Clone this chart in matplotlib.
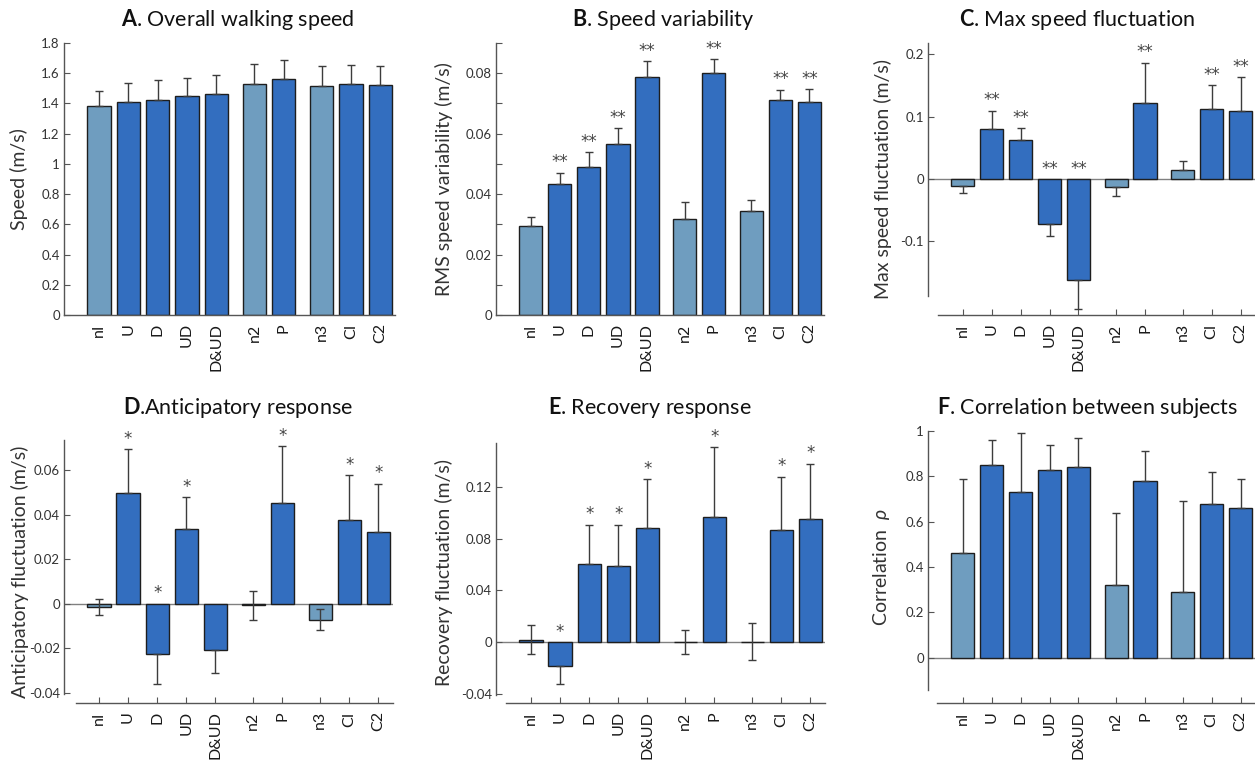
import numpy as np
import matplotlib
matplotlib.use("Agg")
import matplotlib.pyplot as plt

plt.rcParams['font.family'] = ['Lato', 'DejaVu Sans']
plt.rcParams['mathtext.fontset'] = 'custom'
plt.rcParams['mathtext.rm'] = 'Lato'
plt.rcParams['mathtext.bf'] = 'Lato:bold'
plt.rcParams['mathtext.it'] = 'Lato:italic'

# conditions (x positions: three groups with gaps)
conditions = ['nI', 'U', 'D', 'UD', 'D&UD', 'n2', 'P', 'n3', 'CI', 'C2']
xpos = [1, 2, 3, 4, 5, 6.3, 7.3, 8.6, 9.6, 10.6]
is_null = [True, False, False, False, False, True, False, True, False, False]

# A. overall walking speed
speed = [1.38, 1.41, 1.425, 1.45, 1.46, 1.53, 1.565, 1.515, 1.53, 1.525]
speed_err = [0.10, 0.125, 0.13, 0.12, 0.13, 0.13, 0.12, 0.13, 0.125, 0.12]
speed_sig = ['', '', '', '', '', '', '', '', '', '']

# B. speed variability
rms = [0.0295, 0.0434, 0.0491, 0.0566, 0.0789, 0.0316, 0.0800, 0.0343, 0.0711, 0.0704]
rms_err = [0.0029, 0.0037, 0.0048, 0.0052, 0.0050, 0.0059, 0.0047, 0.0037, 0.0035, 0.0043]
rms_sig = ['', '**', '**', '**', '**', '', '**', '', '**', '**']

# C. max speed fluctuation
maxfl = [-0.0118, 0.0807, 0.063, -0.0727, -0.1615, -0.0134, 0.1214, 0.015, 0.1128, 0.109]
maxfl_err = [0.010, 0.029, 0.018, 0.019, 0.047, 0.014, 0.065, 0.014, 0.038, 0.054]
maxfl_sig = ['', '**', '**', '**', '**', '', '**', '', '**', '**']

# D. anticipatory response
antic = [-0.0015, 0.0497, -0.0227, 0.0338, -0.0209, -0.0008, 0.0452, -0.0072, 0.0375, 0.0323]
antic_err = [0.0038, 0.0199, 0.0136, 0.0142, 0.0103, 0.0064, 0.0256, 0.0047, 0.0204, 0.0217]
antic_sig = ['', '*', '*', '*', '', '', '*', '', '*', '*']

# E. recovery response
recov = [0.002, -0.0181, 0.0604, 0.0591, 0.0883, 0.0003, 0.097, 0.0005, 0.0865, 0.0952]
recov_err = [0.011, 0.0144, 0.0304, 0.0317, 0.0379, 0.0095, 0.0537, 0.0146, 0.0415, 0.0428]
recov_sig = ['', '*', '*', '*', '*', '', '*', '', '*', '*']

# F. correlation between subjects
corr = [0.46, 0.85, 0.73, 0.83, 0.84, 0.32, 0.78, 0.29, 0.68, 0.66]
corr_err = [0.33, 0.11, 0.26, 0.11, 0.13, 0.32, 0.13, 0.40, 0.14, 0.13]
corr_sig = ['', '', '', '', '', '', '', '', '', '']

LIGHT = '#6f9dbf'
DARK = '#336ebf'
W, H = 1255, 761

fig = plt.figure(figsize=(W / 100, H / 100), dpi=100)


def panel(px, vals, errs, sig, ylim, yticks, ylabels, spine_lo, xstart,
          ylab, lab_x, two_sided=False, zero_line=False, colors=None):
    x0, y0, x1, y1 = px
    ax = fig.add_axes([x0 / W, 1 - y1 / H, (x1 - x0) / W, (y1 - y0) / H])
    if colors is None:
        colors = [LIGHT if n else DARK for n in is_null]
    if zero_line:
        ax.axhline(0, color='#808080', lw=1.0, zorder=1)
    ax.bar(xpos, vals, width=0.8, color=colors, edgecolor='#1e1e1e',
           linewidth=1.0, zorder=2)
    for i, (x, v, e) in enumerate(zip(xpos, vals, errs)):
        if two_sided and (is_null[i] or i == 0):
            lo, hi = e, e
        elif v >= 0:
            lo, hi = 0, e
        else:
            lo, hi = e, 0
        ax.errorbar(x, v, yerr=[[lo], [hi]], fmt='none', ecolor='#3c3c3c',
                    elinewidth=1.0, capsize=3, capthick=1.0, zorder=3)
        if sig[i]:
            ytop = v + hi if v >= 0 else 0
            ax.annotate(sig[i], (x, ytop), xytext=(0, 1),
                        textcoords='offset points', ha='center', va='bottom',
                        fontsize=12, color='#444444', family='DejaVu Sans')
    ax.set_xlim(-0.2, 11.1)
    ax.set_ylim(*ylim)
    ax.set_yticks(yticks)
    ax.set_yticklabels(ylabels)
    ax.set_xticks(xpos)
    ax.set_xticklabels(conditions, rotation=90, fontsize=11.5, color='#1a1a1a')
    ax.tick_params(direction='in', length=4, width=0.8, color='#555555')
    ax.tick_params(axis='y', labelsize=9.5, labelcolor='#333333', pad=3)
    ax.tick_params(axis='x', pad=6)
    for s in ['top', 'right']:
        ax.spines[s].set_visible(False)
    ax.spines['left'].set_bounds(spine_lo, ylim[1])
    ax.spines['bottom'].set_bounds(xstart, 11.1)
    for s in ['left', 'bottom']:
        ax.spines[s].set_color('#555555')
        ax.spines[s].set_linewidth(1.0)
    ax.set_ylabel(ylab, fontsize=14, color='#333333')
    ax.yaxis.set_label_coords(lab_x, 0.5)
    ax.patch.set_visible(False)
    return ax


# A
panel((64, 43, 395, 315), speed, speed_err, speed_sig, (0, 1.8),
      np.arange(0, 1.81, 0.2),
      ['0', '0.2', '0.4', '0.6', '0.8', '1', '1.2', '1.4', '1.6', '1.8'],
      0, -0.2, 'Speed (m/s)', -0.109)

# B
panel((496, 43, 824, 315), rms, rms_err, rms_sig, (0, 0.09),
      np.arange(0, 0.091, 0.01),
      ['0', '', '0.02', '', '0.04', '', '0.06', '', '0.08', ''],
      0, -0.2, 'RMS speed variability (m/s)', -0.131)

# C
panel((928, 43, 1255, 315), maxfl, maxfl_err, maxfl_sig, (-0.218, 0.218),
      [-0.1, 0, 0.1, 0.2], ['-0.1', '0', '0.1', '0.2'],
      -0.188, 0.15, 'Max speed fluctuation (m/s)', -0.11, zero_line=True)

# D
panel((64, 440, 393, 703), antic, antic_err, antic_sig, (-0.0447, 0.0737),
      [-0.04, -0.02, 0, 0.02, 0.04, 0.06],
      ['-0.04', '-0.02', '0', '0.02', '0.04', '0.06'],
      -0.0405, 0.2, 'Anticipatory fluctuation (m/s)', -0.106,
      two_sided=True, zero_line=True)

# E
e_colors = [DARK, DARK, DARK, DARK, DARK, '#4f86d6', DARK, '#1e1e1e', DARK, DARK]
panel((496, 443, 825, 703), recov, recov_err, recov_sig, (-0.047, 0.154),
      [-0.04, 0, 0.04, 0.08, 0.12], ['-0.04', '0', '0.04', '0.08', '0.12'],
      -0.041, 0.15, 'Recovery fluctuation (m/s)', -0.131,
      two_sided=True, zero_line=True, colors=e_colors)

# F
panel((928, 431, 1255, 703), corr, corr_err, corr_sig, (-0.2, 1.0),
      [0, 0.2, 0.4, 0.6, 0.8, 1.0], ['0', '0.2', '0.4', '0.6', '0.8', '1'],
      -0.141, 0.1, r'Correlation  $\rho$', -0.11, zero_line=True)

titles = [(238, 19, r'$\mathbf{A}$. Overall walking speed'),
          (663, 19, r'$\mathbf{B}$. Speed variability'),
          (1077, 19, r'$\mathbf{C}$. Max speed fluctuation'),
          (238, 408, r'$\mathbf{D}$.Anticipatory response'),
          (650, 408, r'$\mathbf{E}$. Recovery response'),
          (1088, 408, r'$\mathbf{F}$. Correlation between subjects')]
for tx, ty, tt in titles:
    fig.text(tx / W, 1 - ty / H, tt, ha='center', va='center', fontsize=15.5,
             color='#111111')

fig.savefig('out.png', dpi=100)
